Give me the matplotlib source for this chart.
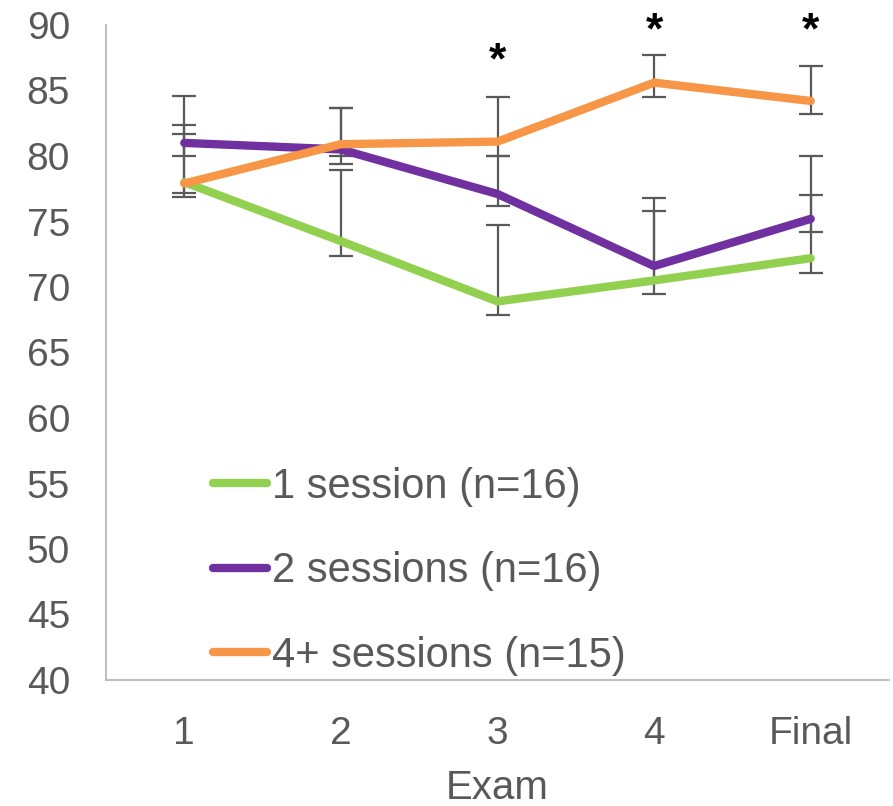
import matplotlib
matplotlib.use("Agg")
import matplotlib.pyplot as plt

plt.rcParams['font.family'] = ['Liberation Sans', 'DejaVu Sans']

# Exam scores by number of tutoring sessions
exams = ["1", "2", "3", "4", "Final"]

one_session = [78.0, 73.5, 68.9, 70.5, 72.2]
two_sessions = [81.0, 80.5, 77.1, 71.6, 75.2]
four_sessions = [77.9, 80.9, 81.1, 85.6, 84.2]

# asymmetric error bars (upper, lower)
one_up = [3.7, 5.4, 5.8, 5.3, 4.8]
one_lo = [0.8, 1.1, 1.0, 1.0, 1.1]
two_up = [3.6, 3.2, 2.9, 5.2, 4.8]
two_lo = [1.0, 1.1, 0.9, 1.0, 1.0]
four_up = [4.5, 2.8, 3.4, 2.1, 2.7]
four_lo = [1.0, 0.9, 1.1, 1.1, 1.0]

series_labels = ["1 session (n=16)", "2 sessions (n=16)", "4+ sessions (n=15)"]
series_colors = ["#92d050", "#7030a0", "#f79646"]

# significant differences, marked with an asterisk above the exam
star_exams = [3, 4, 5]
star_heights = [87.2, 89.45, 89.45]

gray = "#595959"

fig = plt.figure(figsize=(8.93, 8.06), dpi=100)
ax = fig.add_axes([106 / 893, 1 - 680 / 806, 783 / 893, 655 / 806])

x = list(range(1, len(exams) + 1))
all_means = [one_session, two_sessions, four_sessions]
all_up = [one_up, two_up, four_up]
all_lo = [one_lo, two_lo, four_lo]

for means, up, lo, color, label in zip(all_means, all_up, all_lo,
                                       series_colors, series_labels):
    ax.errorbar(x, means, yerr=[lo, up], fmt="none", ecolor=gray,
                elinewidth=1.6, capsize=8.5, capthick=1.6, zorder=2)
    ax.plot(x, means, color=color, lw=6, label=label,
            solid_capstyle="round", solid_joinstyle="round", zorder=3)

for xs, ys in zip(star_exams, star_heights):
    ax.text(xs, ys, "*", ha="center", va="center", fontsize=32,
            fontweight="bold", color="black")

ax.set_xlim(0.5, 5.5)
ax.set_ylim(40, 90)
ax.set_yticks(range(40, 91, 5))
ax.set_xticks(x)
ax.set_xticklabels(exams)
ax.tick_params(axis="both", length=0, labelsize=28, colors=gray)
ax.tick_params(axis="y", pad=26)
ax.tick_params(axis="x", pad=26)
ax.set_xlabel("Exam", fontsize=29, color=gray, labelpad=12)

for side in ["top", "right"]:
    ax.spines[side].set_visible(False)
for side in ["left", "bottom"]:
    ax.spines[side].set_color("#bfbfbf")
    ax.spines[side].set_linewidth(1.5)

leg = ax.legend(loc="center left", bbox_to_anchor=(0.137, 0.166),
                frameon=False, fontsize=30, handlelength=1.3,
                handletextpad=0.1, labelspacing=1.07, borderpad=0,
                borderaxespad=0)
for text in leg.get_texts():
    text.set_color(gray)
for line in leg.get_lines():
    line.set_solid_capstyle("round")

fig.savefig("out.png", dpi=100)
